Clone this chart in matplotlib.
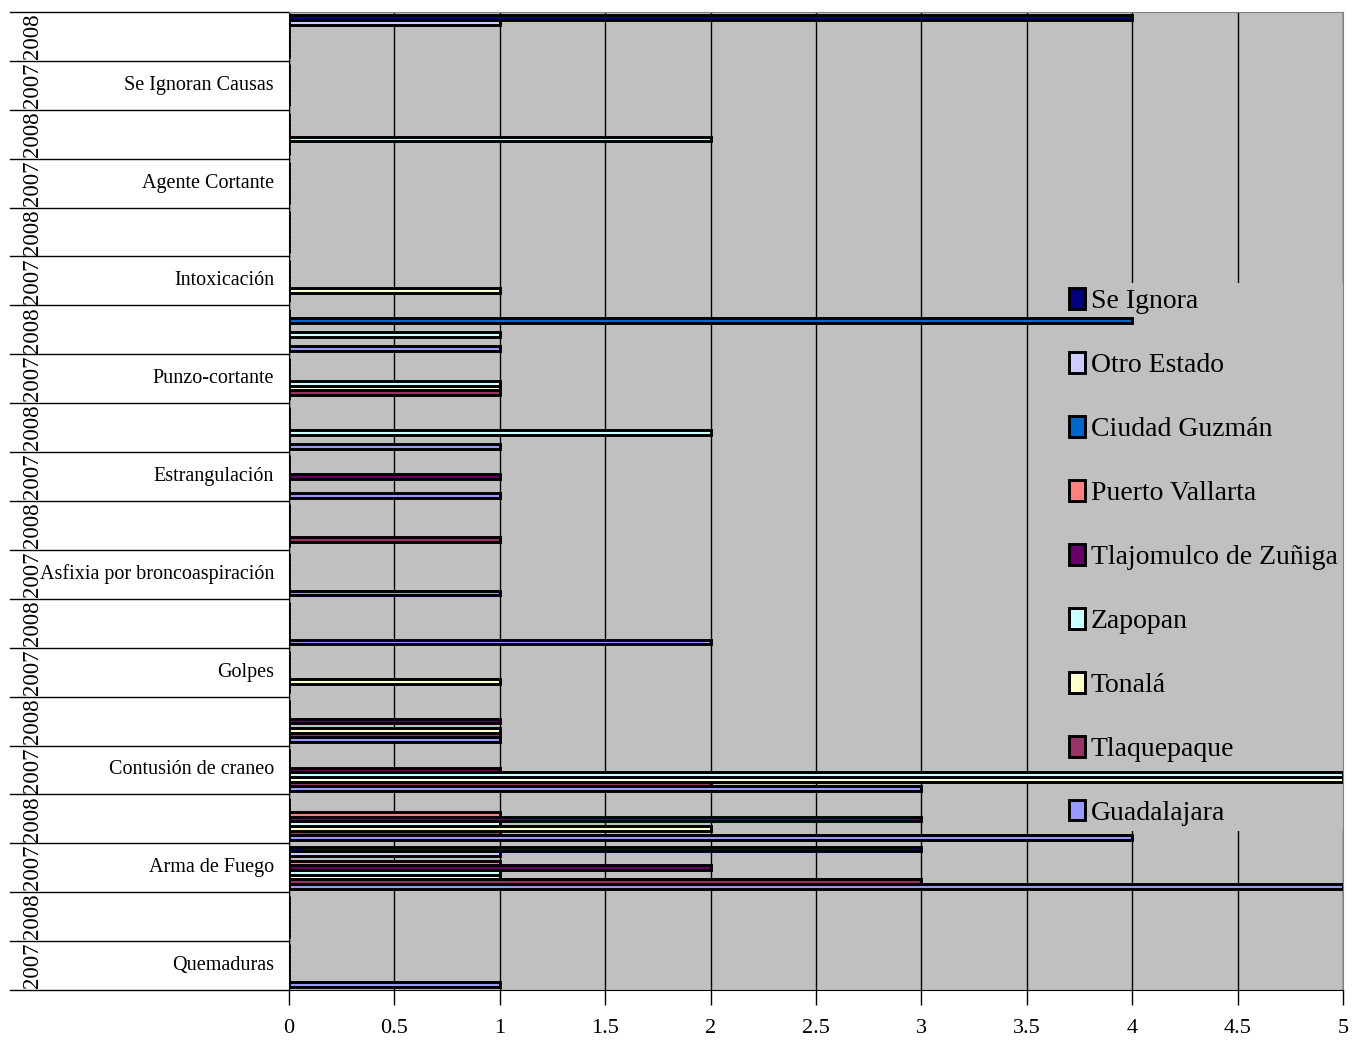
import matplotlib.pyplot as plt
import numpy as np

plt.rcParams['font.family'] = ['Liberation Serif', 'DejaVu Serif']

causas = ['Quemaduras', 'Arma de Fuego', 'Contusión de craneo', 'Golpes',
          'Asfixia por broncoaspiración', 'Estrangulación', 'Punzo-cortante',
          'Intoxicación', 'Agente Cortante', 'Se Ignoran Causas']
anios = ['2007', '2008']

series = ['Guadalajara', 'Tlaquepaque', 'Tonalá', 'Zapopan', 'Tlajomulco de Zuñiga',
          'Puerto Vallarta', 'Ciudad Guzmán', 'Otro Estado', 'Se Ignora']
colores = ['#9999FF', '#993366', '#FFFFCC', '#CCFFFF', '#660066',
           '#FF8080', '#0066CC', '#CCCCFF', '#000080']

# orden: Quemaduras 2007, Quemaduras 2008, Arma de Fuego 2007, ... Se Ignoran Causas 2008
guadalajara = [1, 0, 5, 4, 3, 1, 0, 2, 1, 0, 1, 1, 0, 1, 0, 0, 0, 0, 0, 0]
tlaquepaque = [0, 0, 3, 1, 2, 1, 0, 0, 0, 1, 0, 0, 1, 0, 0, 0, 0, 0, 0, 0]
tonala = [0, 0, 1, 2, 5, 1, 1, 0, 0, 0, 0, 0, 1, 0, 1, 0, 0, 0, 0, 0]
zapopan = [0, 0, 1, 1, 5, 0, 0, 0, 0, 0, 0, 2, 1, 1, 0, 0, 0, 2, 0, 0]
tlajomulco = [0, 0, 2, 3, 1, 1, 0, 0, 0, 0, 1, 0, 0, 0, 0, 0, 0, 0, 0, 0]
puerto_vallarta = [0, 0, 1, 1, 0, 0, 0, 0, 0, 0, 0, 0, 0, 0, 0, 0, 0, 0, 0, 0]
ciudad_guzman = [0, 0, 0, 0, 0, 0, 0, 0, 0, 0, 0, 0, 0, 4, 0, 0, 0, 0, 0, 0]
otro_estado = [0, 0, 1, 0, 0, 0, 0, 0, 0, 0, 0, 0, 0, 0, 0, 0, 0, 0, 0, 1]
se_ignora = [0, 0, 3, 0, 0, 0, 0, 0, 0, 0, 0, 0, 0, 0, 0, 0, 0, 0, 0, 4]

valores = [guadalajara, tlaquepaque, tonala, zapopan, tlajomulco,
           puerto_vallarta, ciudad_guzman, otro_estado, se_ignora]

fig = plt.figure(figsize=(13.62, 10.45), dpi=100)
ax = fig.add_axes([289 / 1362, 1 - 990 / 1045, 1054 / 1362, 978 / 1045])
ax.set_facecolor('#C0C0C0')

n = len(causas) * len(anios)
y = np.arange(n)
h = 0.0957
for k, (nombre, vals) in enumerate(zip(series, valores)):
    ax.barh(y + (k - 4) * h, vals, height=h, color=colores[k], edgecolor='black',
            linewidth=2.1, label=nombre, zorder=3)

ax.set_xlim(0, 5)
ax.set_ylim(-0.5, n - 0.5)
ax.set_xticks(np.arange(0, 5.01, 0.5))
ax.set_xticklabels(['0', '0.5', '1', '1.5', '2', '2.5', '3', '3.5', '4', '4.5', '5'])
ax.tick_params(axis='x', direction='out', length=11, width=1, pad=10, labelsize=16)
ax.set_yticks([])
ax.set_axisbelow(True)
ax.grid(axis='x', color='black', linewidth=1)

for s in ['top', 'right']:
    ax.spines[s].set_color('#808080')
ax.spines['left'].set_color('black')
ax.spines['bottom'].set_color('black')

# etiquetas de categorias de dos niveles
tr = ax.get_yaxis_transform()
for b in np.arange(-0.5, n, 1.0):
    ax.plot([-0.2647, 0], [b, b], color='black', linewidth=1, transform=tr, clip_on=False)
for i in range(n):
    ax.text(-0.2429, i, anios[i % 2], rotation=90, ha='center', va='center',
            fontsize=16.5, transform=tr)
for j, c in enumerate(causas):
    ax.text(-0.0142, 2 * j, c, ha='right', va='center', fontsize=14.5, transform=tr)

handles, labels = ax.get_legend_handles_labels()
leg = ax.legend(handles[::-1], labels[::-1], loc='center left',
                bbox_to_anchor=(1063 / 1362, 1 - 557 / 1045), bbox_transform=fig.transFigure,
                fontsize=20, frameon=True, facecolor='#C0C0C0', edgecolor='none',
                framealpha=1, fancybox=False, borderpad=0.2, borderaxespad=0,
                handlelength=0.6, handleheight=0.78, handletextpad=0.2, labelspacing=1.36)
leg.set_zorder(2)

plt.savefig('out.png')
